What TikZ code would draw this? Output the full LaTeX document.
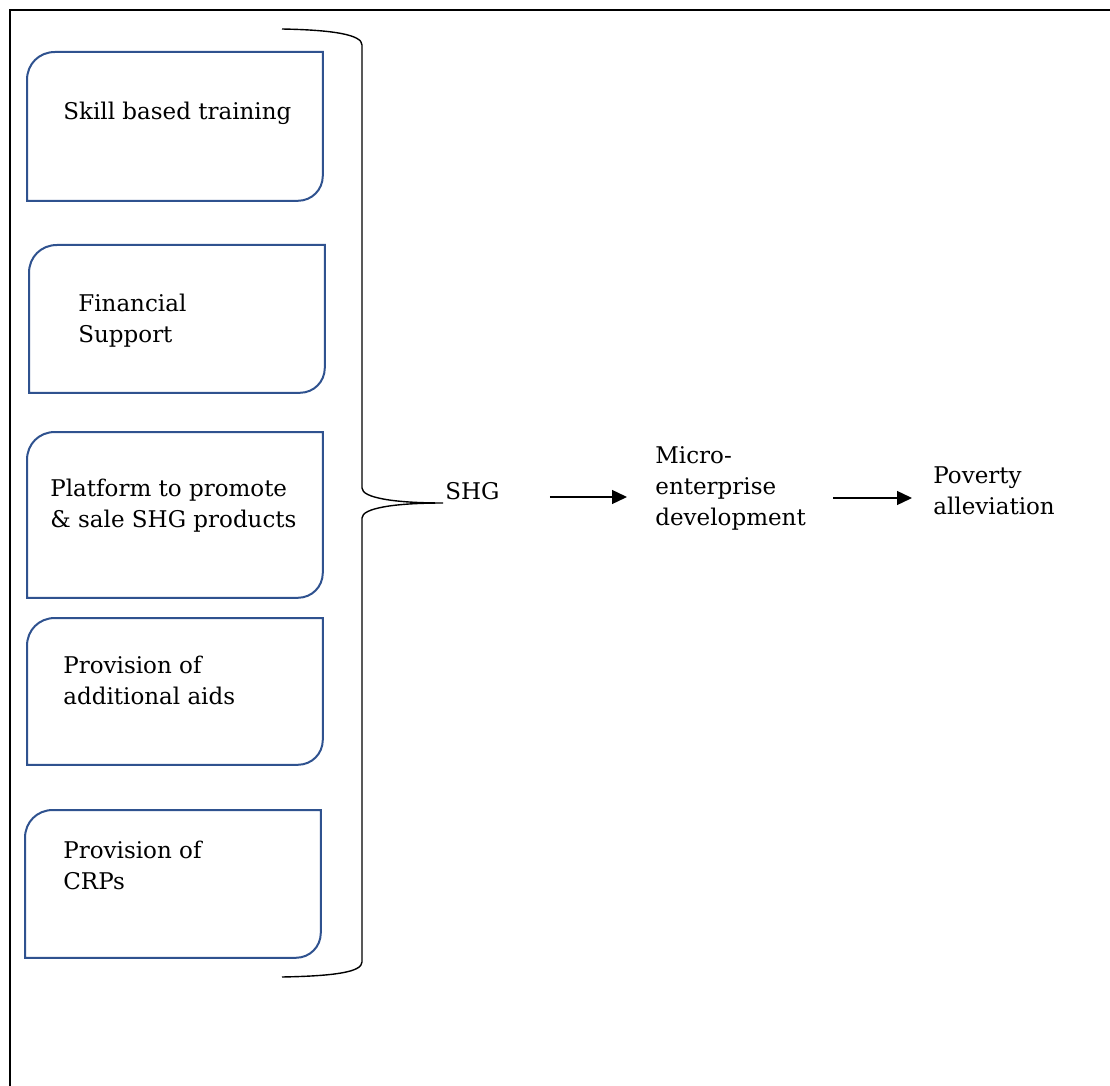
\documentclass[tikz,border=0pt]{standalone}
\usepackage{fontspec}
\setmainfont{DejaVu Serif}
\usetikzlibrary{arrows.meta, positioning, calc}
\definecolor{boxblue}{RGB}{47,82,143}

\begin{document}
\begin{tikzpicture}[x=0.5pt, y=-0.5pt,
    diagbox/.style={draw=none, minimum width=147.5pt, inner sep=0pt, anchor=north west},
    boxline/.style={draw=boxblue, line width=1pt},
    boxtext/.style={anchor=base west, align=left, inner sep=0pt, font=\fontsize{11.5pt}{15.5pt}\selectfont},
    flowarrow/.style={-{Triangle[length=7.5pt, width=7pt]}, line width=0.7pt}]
    \useasboundingbox (0,0) rectangle (1110,1086);

    % Outer frame
    \draw[line width=1.2pt] (1110,10) -- (10,10) -- (10,1086);

    % Support boxes
    \node[diagbox, minimum height=74pt] (skill) at (27,52) {};
    \node[diagbox, minimum height=73.5pt] (finance) at (29,245) {};
    \node[diagbox, minimum height=82.5pt] (platform) at (27,432) {};
    \node[diagbox, minimum height=73pt] (aids) at (27,618) {};
    \node[diagbox, minimum height=73.5pt] (crps) at (25,810) {};

    % Box outlines (round top left and bottom right)
    \foreach \b in {skill, finance, platform, aids, crps}
        \draw[boxline] (\b.south west) -- ($(\b.north west)+(0,28)$)
            .. controls ($(\b.north west)+(0,12)$) and ($(\b.north west)+(12,0)$) .. ($(\b.north west)+(28,0)$)
            -- (\b.north east) -- ($(\b.south east)+(0,-25)$)
            .. controls ($(\b.south east)+(0,-11)$) and ($(\b.south east)+(-11,0)$) .. ($(\b.south east)+(-25,0)$)
            -- cycle;

    % Box texts (base = last line)
    \node[boxtext] (skilltext) at (63,120) {Skill based training};
    \node[boxtext] (financetext) at (78,343) {Financial\\Support};
    \node[boxtext] (platformtext) at (50,527) {Platform to promote\\\& sale SHG products};
    \node[boxtext] (aidstext) at (63,704) {Provision of\\additional aids};
    \node[boxtext] (crpstext) at (63,889) {Provision of\\CRPs};

    % Brace
    \coordinate (bracetip) at (443,503);
    \draw[line width=0.7pt] (282,29) .. controls (335,30) and (362,35) .. (362,45)
        -- (362,488) .. controls (362,498) and (395,503) .. (bracetip)
        .. controls (395,503) and (362,508) .. (362,518)
        -- (362,962) .. controls (362,972) and (335,976) .. (282,977);

    % Chain on the right
    \node[boxtext] (shg) at (445,499) {SHG};
    \node[boxtext] (micro) at (655,525) {Micro-\\enterprise\\development};
    \node[boxtext] (poverty) at (933,514) {Poverty\\alleviation};

    % Arrows
    \draw[flowarrow] ($(shg.base east)+(50,-2)$) -- ($(shg.base -| micro.west)+(-28,-2)$);
    \draw[flowarrow] ($(shg.base -| micro.east)+(27,-1)$) -- ($(shg.base -| poverty.west)+(-21,-1)$);
\end{tikzpicture}
\end{document}
